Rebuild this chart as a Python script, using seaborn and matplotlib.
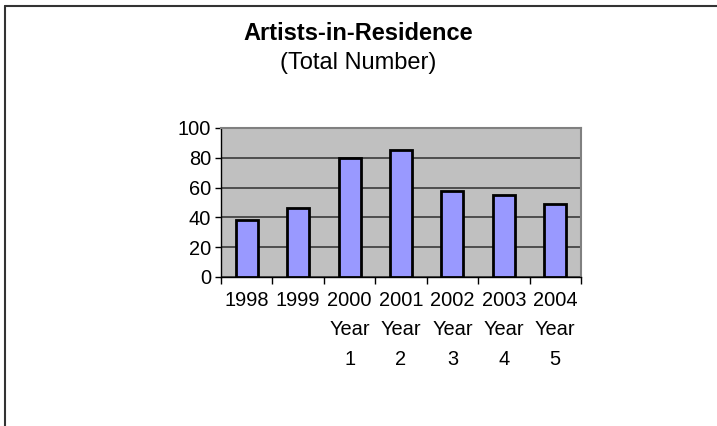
import matplotlib
matplotlib.use("Agg")
import matplotlib.pyplot as plt
import seaborn as sns
import numpy as np
from matplotlib.lines import Line2D

categories = ["1998", "1999", "2000\nYear\n1", "2001\nYear\n2", "2002\nYear\n3", "2003\nYear\n4", "2004\nYear\n5"]
values = [38, 46, 80, 85, 58, 55, 49]
yticks = [0, 20, 40, 60, 80, 100]

sns.set_theme(style="white")
plt.rcParams["font.family"] = ["Liberation Sans", "DejaVu Sans"]
plt.rcParams["text.color"] = "black"
plt.rcParams["xtick.color"] = "black"
plt.rcParams["ytick.color"] = "black"

fig = plt.figure(figsize=(7.17, 4.26), dpi=100)
ax = fig.add_axes([221/717, 1-277/426, 360/717, 149/426])
ax.set_facecolor("#C0C0C0")

sns.barplot(x=categories, y=values, color="#9999FF", edgecolor="black",
            linewidth=2, width=0.43, saturation=1, ax=ax, zorder=3)

ax.set_ylim(0, 100)
ax.set_xlim(-0.5, len(categories) - 0.5)
ax.set_yticks(yticks)
ax.set_yticklabels([str(v) for v in yticks], fontsize=14.4, color="black")
ax.yaxis.grid(True, color="#3a3a3a", linewidth=1.2, zorder=1)
ax.set_axisbelow(True)

ax.set_xticks(np.arange(-0.5, len(categories), 1.0))
ax.set_xticklabels([])
ax.set_xticks(np.arange(len(categories)), minor=True)
ax.set_xticklabels(categories, minor=True, fontsize=14.4, linespacing=1.7, va="top", color="black")
ax.tick_params(axis="x", which="major", direction="out", length=5, width=1, color="black", bottom=True)
ax.tick_params(axis="x", which="minor", length=0, pad=10)
ax.tick_params(axis="y", direction="out", length=4, width=1, color="black", left=True, pad=3)
ax.set_xlabel("")
ax.set_ylabel("")

for s in ["left", "bottom"]:
    ax.spines[s].set_color("black")
    ax.spines[s].set_linewidth(1)
for s in ["top", "right"]:
    ax.spines[s].set_color("#808080")
    ax.spines[s].set_linewidth(1.5)
    ax.spines[s].set_visible(True)

fig.text(0.5, 1-33/426, "Artists-in-Residence", ha="center", va="center",
         fontsize=17, fontweight="bold", color="black")
fig.text(0.5, 1-63/426, "(Total Number)", ha="center", va="center", fontsize=17, color="black")

fig.add_artist(Line2D([5/717, 5/717], [0, 1-6/426], color="#333333", linewidth=1.5, transform=fig.transFigure))
fig.add_artist(Line2D([5/717, 1], [1-6/426, 1-6/426], color="#333333", linewidth=1.5, transform=fig.transFigure))

fig.savefig("out.png", dpi=100)
